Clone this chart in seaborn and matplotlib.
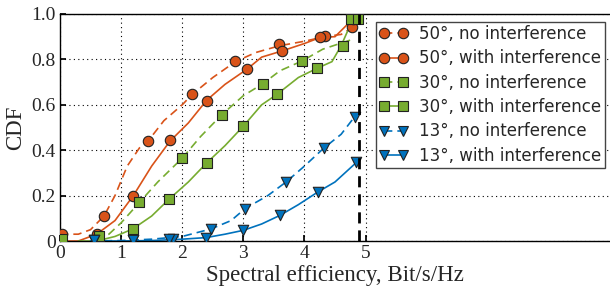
import numpy as np
import pandas as pd
import matplotlib.pyplot as plt
import seaborn as sns
from matplotlib.lines import Line2D

# ---- curve data ----
o_dash_x = [0, 0.3, 0.5, 0.72, 0.9, 1.1, 1.3, 1.44, 1.7, 2.0, 2.16, 2.5, 2.87, 3.2, 3.59, 4.0, 4.33, 4.6, 4.78]
o_dash_y = [0.03, 0.03, 0.05, 0.11, 0.2, 0.33, 0.41, 0.44, 0.53, 0.6, 0.645, 0.72, 0.79, 0.83, 0.86, 0.88, 0.9, 0.91, 0.94]
o_sol_x = [0, 0.3, 0.6, 0.9, 1.2, 1.5, 1.8, 2.1, 2.4, 2.7, 3.06, 3.3, 3.63, 4.0, 4.26, 4.5, 4.8]
o_sol_y = [0.0, 0.0, 0.03, 0.09, 0.2, 0.33, 0.44, 0.52, 0.62, 0.69, 0.757, 0.81, 0.837, 0.87, 0.897, 0.9, 0.98]
g_dash_x = [0.6, 0.8, 1.0, 1.3, 1.6, 2.0, 2.3, 2.65, 3.0, 3.32, 3.6, 3.96, 4.3, 4.75]
g_dash_y = [0.0, 0.03, 0.08, 0.17, 0.26, 0.365, 0.46, 0.557, 0.64, 0.693, 0.75, 0.793, 0.845, 0.885]
g_sol_x = [0.3, 0.6, 0.9, 1.19, 1.5, 1.78, 2.1, 2.4, 2.7, 3.0, 3.3, 3.55, 3.9, 4.2, 4.45, 4.6, 4.83]
g_sol_y = [0.0, 0.0, 0.02, 0.053, 0.11, 0.183, 0.26, 0.344, 0.42, 0.506, 0.6, 0.646, 0.72, 0.76, 0.79, 0.86, 1.0]
b_dash_x = [0.5, 1.0, 1.5, 2.0, 2.47, 2.8, 3.03, 3.4, 3.7, 4.0, 4.32, 4.6, 4.82]
b_dash_y = [0.0, 0.002, 0.008, 0.02, 0.053, 0.09, 0.143, 0.2, 0.26, 0.33, 0.41, 0.47, 0.547]
b_sol_x = [0.5, 1.0, 1.5, 2.0, 2.39, 2.7, 3.0, 3.3, 3.6, 3.9, 4.22, 4.5, 4.85]
b_sol_y = [0.0, 0.0, 0.002, 0.008, 0.015, 0.03, 0.047, 0.075, 0.113, 0.16, 0.216, 0.26, 0.346]

# ---- marker positions ----
o_dash_mx = [0.04, 0.72, 1.44, 2.16, 2.87, 3.59, 4.33, 4.78]
o_dash_my = [0.03, 0.11, 0.44, 0.646, 0.793, 0.866, 0.903, 0.944]
o_sol_mx = [0.6, 1.2, 1.8, 2.4, 3.06, 3.63, 4.26, 4.8]
o_sol_my = [0.03, 0.197, 0.444, 0.618, 0.757, 0.837, 0.897, 0.98]
g_dash_mx = [1.3, 2.0, 2.65, 3.32, 3.96, 4.76]
g_dash_my = [0.17, 0.365, 0.557, 0.693, 0.793, 0.98]
g_sol_mx = [0.03, 0.64, 1.19, 1.78, 2.4, 3.0, 3.55, 4.2, 4.63, 4.87]
g_sol_my = [0.01, 0.022, 0.053, 0.183, 0.344, 0.506, 0.646, 0.76, 0.86, 0.98]
b_dash_mx = [0.55, 1.2, 1.85, 2.47, 3.03, 3.7, 4.32, 4.82]
b_dash_my = [0.006, 0.005, 0.01, 0.053, 0.143, 0.26, 0.41, 0.547]
b_sol_mx = [0.55, 1.2, 1.79, 2.39, 3.0, 3.6, 4.22, 4.85]
b_sol_my = [0.006, 0.005, 0.01, 0.015, 0.047, 0.113, 0.216, 0.346]

labels = ["50°, no interference", "50°, with interference",
          "30°, no interference", "30°, with interference",
          "13°, no interference", "13°, with interference"]
threshold_x = 4.9

ORANGE, GREEN, BLUE = "#D95319", "#77AC30", "#0072BD"

series = [
    (o_dash_x, o_dash_y, o_dash_mx, o_dash_my, ORANGE, "o", True, 7.5),
    (o_sol_x, o_sol_y, o_sol_mx, o_sol_my, ORANGE, "o", False, 7.5),
    (g_dash_x, g_dash_y, g_dash_mx, g_dash_my, GREEN, "s", True, 6.8),
    (g_sol_x, g_sol_y, g_sol_mx, g_sol_my, GREEN, "s", False, 6.8),
    (b_dash_x, b_dash_y, b_dash_mx, b_dash_my, BLUE, "v", True, 7.5),
    (b_sol_x, b_sol_y, b_sol_mx, b_sol_my, BLUE, "v", False, 7.5),
]

sns.set_theme(style="ticks")
plt.rcParams['font.family'] = ['Liberation Serif', 'DejaVu Serif']

fig = plt.figure(figsize=(6.1, 2.93), dpi=100)
ax = fig.add_axes([60 / 610, 52 / 293, 1.0 - 60 / 610, 227 / 293])

handles = []
for lx, ly, mx, my, col, mk, dashed, ms in series:
    ls = (0, (5, 3)) if dashed else "-"
    sns.lineplot(x=lx, y=ly, ax=ax, color=col, linewidth=1.2, linestyle=ls,
                 sort=False, estimator=None, zorder=2)
    sns.scatterplot(x=mx, y=my, ax=ax, color=col, marker=mk, s=ms ** 2,
                    edgecolor="#222222", linewidth=0.8, zorder=3)
    handles.append(Line2D([0], [0], color=col, linestyle=ls, linewidth=1.2,
                          marker=mk, markersize=ms, markeredgecolor="#222222",
                          markeredgewidth=0.8, markerfacecolor=col))

ax.axvline(threshold_x, color="black", linewidth=2, linestyle=(0, (4, 2.5)), zorder=4)

ax.set_xlim(0, 9.0)
ax.set_ylim(0, 1.0)
ax.set_xticks([0, 1, 2, 3, 4, 5])
ax.set_xticklabels(["0", "1", "2", "3", "4", "5"])
ax.set_yticks([0, 0.2, 0.4, 0.6, 0.8, 1.0])
ax.set_yticklabels(["0", "0.2", "0.4", "0.6", "0.8", "1.0"])
ax.tick_params(direction="in", labelsize=14, length=4, color="black", pad=3)
ax.grid(True, color="black", linestyle=(0, (1, 3)), linewidth=0.8)
for s in ["left", "top", "bottom"]:
    ax.spines[s].set_color("black")
    ax.spines[s].set_linewidth(1.0)
ax.spines["right"].set_visible(False)

ax.set_xlabel("Spectral efficiency, Bit/s/Hz", fontsize=16.5, labelpad=2)
ax.set_ylabel("CDF", fontsize=16.5, labelpad=4)

leg = ax.legend(handles, labels, loc="upper right", numpoints=2,
                bbox_to_anchor=(605 / 610, 1 - 21.7 / 293),
                bbox_transform=fig.transFigure, borderaxespad=0,
                fancybox=False, framealpha=1, edgecolor="#444444",
                prop={"family": "DejaVu Sans", "size": 12},
                handlelength=1.7, handletextpad=0.7, labelspacing=0.38,
                borderpad=0.2)
leg.get_frame().set_linewidth(1.0)

fig.savefig("out.png", dpi=100)
